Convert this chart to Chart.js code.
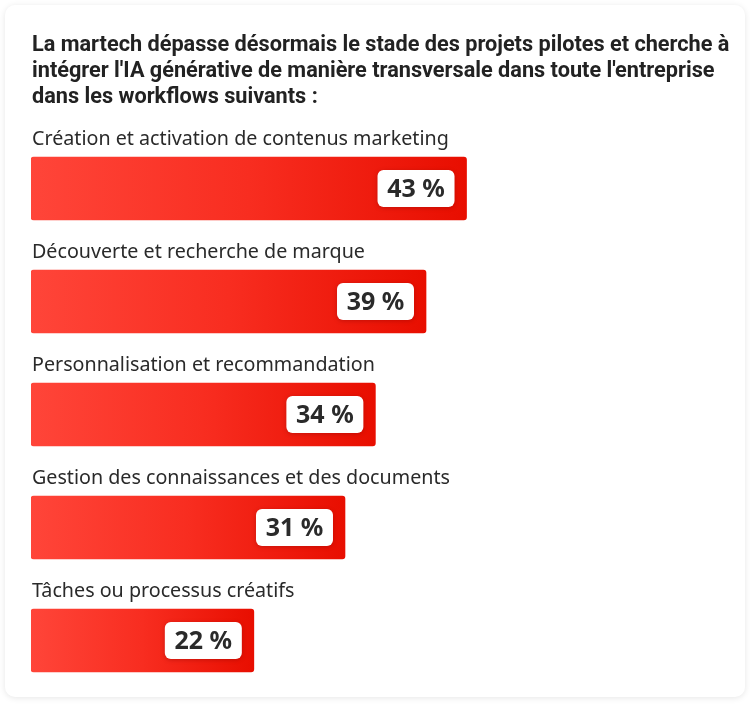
<!DOCTYPE html>
<html lang="fr">
<head>
<meta charset="utf-8">
<title>Workflows IA générative</title>
<script src="https://cdn.jsdelivr.net/npm/chart.js@4.4.1/dist/chart.umd.min.js"></script>
<style>
    html, body { margin: 0; padding: 0; background: #ffffff; }
    #wrap { width: 750px; height: 706px; }
</style>
</head>
<body>
<div id="wrap"><canvas id="workflowChart" width="750" height="706"></canvas></div>
<script>
// données
const titleLines = [
    "La martech dépasse désormais le stade des projets pilotes et cherche à",
    "intégrer l'IA générative de manière transversale dans toute l'entreprise",
    "dans les workflows suivants :"
];
const categories = [
    "Création et activation de contenus marketing",
    "Découverte et recherche de marque",
    "Personnalisation et recommandation",
    "Gestion des connaissances et des documents",
    "Tâches ou processus créatifs"
];
const percentages = [43, 39, 34, 31, 22];

const TEXT_COLOR = '#2a2a2a';

// fond de carte + titre
const cardPlugin = {
    id: 'card',
    beforeDraw(chart) {
        const ctx = chart.ctx;
        ctx.save();
        ctx.shadowColor = 'rgba(0,0,0,0.10)';
        ctx.shadowBlur = 6;
        ctx.shadowOffsetY = 1;
        ctx.fillStyle = '#ffffff';
        ctx.beginPath();
        ctx.roundRect(5, 5, 740, 692, 10);
        ctx.fill();
        ctx.restore();

        ctx.save();
        ctx.fillStyle = '#222222';
        ctx.font = 'bold 21.7px Roboto';
        ctx.textBaseline = 'alphabetic';
        titleLines.forEach((line, i) => {
            ctx.fillText(line, 32, 51 + i * 26);
        });
        ctx.restore();
    }
};

// libellés des catégories au-dessus des barres
const categoryLabels = {
    id: 'categoryLabels',
    afterDatasetsDraw(chart) {
        const ctx = chart.ctx;
        const meta = chart.getDatasetMeta(0);
        ctx.save();
        ctx.fillStyle = TEXT_COLOR;
        ctx.font = '19.7px "Noto Sans"';
        ctx.textBaseline = 'alphabetic';
        meta.data.forEach((bar, i) => {
            const top = bar.y - bar.height / 2;
            ctx.fillText(categories[i], 32, top - 12);
        });
        ctx.restore();
    }
};

// pastilles blanches avec la valeur
const valueBadges = {
    id: 'valueBadges',
    afterDatasetsDraw(chart) {
        const ctx = chart.ctx;
        const meta = chart.getDatasetMeta(0);
        ctx.save();
        meta.data.forEach((bar, i) => {
            const w = 77, h = 37;
            const x = bar.x - 12 - w;
            const y = bar.y - h / 2;
            ctx.save();
            ctx.shadowColor = 'rgba(120,0,0,0.35)';
            ctx.shadowBlur = 4;
            ctx.shadowOffsetY = 1;
            ctx.fillStyle = '#ffffff';
            ctx.beginPath();
            ctx.roundRect(x, y, w, h, 6);
            ctx.fill();
            ctx.restore();

            ctx.fillStyle = TEXT_COLOR;
            ctx.font = 'bold 25px "Noto Sans"';
            ctx.textAlign = 'center';
            ctx.textBaseline = 'middle';
            ctx.fillText(percentages[i] + ' %', x + w / 2, bar.y + 1);
        });
        ctx.restore();
    }
};

function barGradient(context) {
    const chart = context.chart;
    if (!chart.chartArea) return '#f52a1c';
    const xScale = chart.scales.x;
    const start = xScale.getPixelForValue(0);
    const end = xScale.getPixelForValue(context.raw);
    const g = chart.ctx.createLinearGradient(start, 0, end, 0);
    g.addColorStop(0, '#ff4539');
    g.addColorStop(0.5, '#f82d20');
    g.addColorStop(1, '#e80e00');
    return g;
}

new Chart(document.getElementById('workflowChart'), {
    type: 'bar',
    data: {
        labels: categories,
        datasets: [{
            data: percentages,
            backgroundColor: barGradient,
            borderRadius: 3,
            borderSkipped: false,
            barThickness: 63
        }]
    },
    options: {
        indexAxis: 'y',
        responsive: false,
        animation: false,
        layout: {
            padding: { top: 132, left: 31, right: 10, bottom: 9 }
        },
        scales: {
            x: { display: false, min: 0, max: 70 },
            y: { display: false }
        },
        plugins: {
            legend: { display: false },
            tooltip: { enabled: false }
        }
    },
    plugins: [cardPlugin, categoryLabels, valueBadges]
});
</script>
</body>
</html>
